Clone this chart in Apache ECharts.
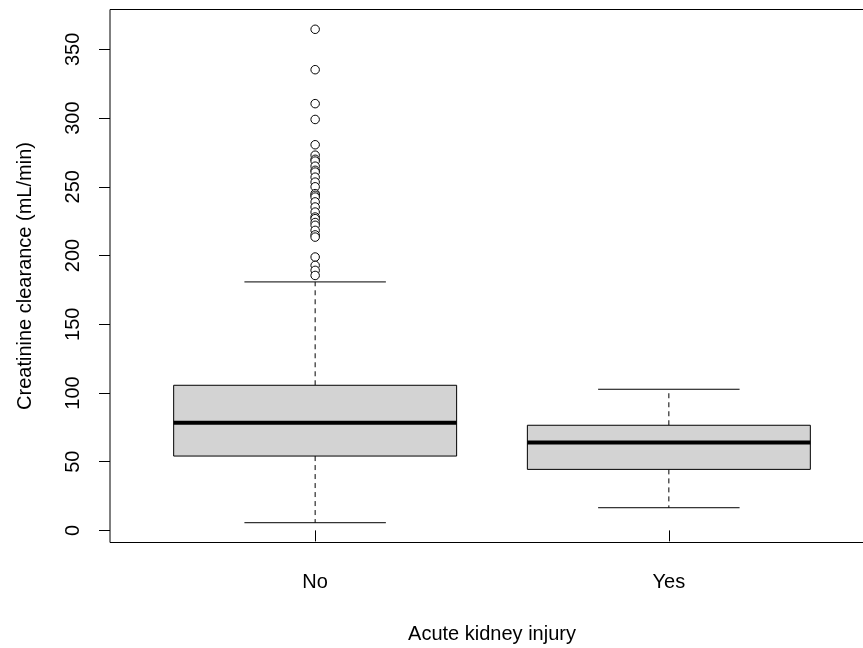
<!DOCTYPE html>
<html>
<head>
<meta charset="utf-8">
<script src="https://cdn.jsdelivr.net/npm/echarts@6/dist/echarts.min.js"></script>
<style>
  html, body { margin: 0; padding: 0; background: #fff; }
  #main { width: 863px; height: 648px; }
</style>
</head>
<body>
<div id="main"></div>
<script>
// groups on the x axis
var groups = ['No', 'Yes'];
// five-number summaries: lower whisker, Q1, median, Q3, upper whisker
var boxLow = [5.6, 16.5];
var boxQ1 = [54.1, 44.4];
var boxMedian = [78.4, 63.9];
var boxQ3 = [105.6, 76.5];
var boxHigh = [180.8, 102.7];
// outliers of the "No" group (none for "Yes")
var noOutliers = [364.6, 335.2, 310.5, 299, 280.6, 273, 270, 268.7, 265, 262,
  260.7, 257, 253.4, 250, 245, 243.8, 242.5, 239, 235.3, 231.6, 228, 226.8,
  224, 222, 218.3, 215, 213.4, 198.9, 192.8, 189.2, 185.5];
var yesOutliers = [];
// axis ticks
var yTicks = [0, 50, 100, 150, 200, 250, 300, 350];
var xTicks = [1, 2];

var myChart = echarts.init(document.getElementById('main'));

var boxData = groups.map(function (g, i) {
  return [i + 1, boxLow[i], boxQ1[i], boxMedian[i], boxQ3[i], boxHigh[i]];
});
var outlierData = noOutliers.map(function (v) { return [1, v]; })
  .concat(yesOutliers.map(function (v) { return [2, v]; }));

var font = "'Liberation Sans', Arial, sans-serif";

function renderBox(params, api) {
  var x = api.value(0);
  var lo = api.coord([x, api.value(1)]);
  var q1 = api.coord([x, api.value(2)]);
  var md = api.coord([x, api.value(3)]);
  var q3 = api.coord([x, api.value(4)]);
  var hi = api.coord([x, api.value(5)]);
  var band = api.size([1, 0])[0];
  var bw = band * 0.8;
  var cw = band * 0.4;
  var cx = md[0];
  var solid = { stroke: '#000', lineWidth: 1 };
  var dashed = { stroke: '#000', lineWidth: 1, lineDash: [5, 4] };
  return {
    type: 'group',
    children: [
      { type: 'line', shape: { x1: cx, y1: q3[1], x2: cx, y2: hi[1] }, style: dashed },
      { type: 'line', shape: { x1: cx, y1: q1[1], x2: cx, y2: lo[1] }, style: dashed },
      { type: 'line', shape: { x1: cx - cw / 2, y1: hi[1], x2: cx + cw / 2, y2: hi[1] }, style: solid },
      { type: 'line', shape: { x1: cx - cw / 2, y1: lo[1], x2: cx + cw / 2, y2: lo[1] }, style: solid },
      { type: 'rect', shape: { x: cx - bw / 2, y: q3[1], width: bw, height: q1[1] - q3[1] },
        style: { fill: '#d3d3d3', stroke: '#000', lineWidth: 1 } },
      { type: 'line', shape: { x1: cx - bw / 2, y1: md[1], x2: cx + bw / 2, y2: md[1] },
        style: { stroke: '#000', lineWidth: 4 } }
    ]
  };
}

var option = {
  animation: false,
  backgroundColor: '#fff',
  textStyle: { fontFamily: font },
  grid: {
    left: 110, top: 9.5, width: 764, bottom: 105.5,
    outerBoundsMode: 'none',
    containLabel: false,
    show: true, borderColor: '#000', borderWidth: 1, backgroundColor: 'transparent'
  },
  xAxis: {
    type: 'value',
    min: 0.42,
    max: 2.58,
    name: 'Acute kidney injury',
    nameLocation: 'middle',
    nameGap: 82,
    nameTextStyle: { color: '#000', fontSize: 20, fontFamily: font },
    axisLine: { show: false },
    splitLine: { show: false },
    axisTick: { show: true, length: 11, customValues: xTicks, lineStyle: { color: '#000' } },
    axisLabel: {
      customValues: xTicks,
      margin: 30,
      color: '#000',
      fontSize: 20,
      fontFamily: font,
      formatter: function (v) { return groups[v - 1]; }
    }
  },
  yAxis: {
    type: 'value',
    min: -8.8,
    max: 379,
    name: 'Creatinine clearance (mL/min)',
    nameLocation: 'middle',
    nameGap: 75,
    nameTextStyle: { color: '#000', fontSize: 20, fontFamily: font },
    axisLine: { show: false },
    splitLine: { show: false },
    axisTick: { show: true, length: 11, customValues: yTicks, lineStyle: { color: '#000' } },
    axisLabel: {
      customValues: yTicks,
      rotate: 90,
      margin: 27,
      color: '#000',
      fontSize: 20,
      fontFamily: font
    }
  },
  series: [
    {
      type: 'custom',
      renderItem: renderBox,
      encode: { x: 0, y: [1, 2, 3, 4, 5] },
      data: boxData,
      z: 2
    },
    {
      type: 'scatter',
      data: outlierData,
      symbol: 'circle',
      symbolSize: 8.5,
      itemStyle: { color: '#fff', borderColor: '#000', borderWidth: 1, opacity: 1 },
      z: 3
    }
  ]
};

myChart.setOption(option);
</script>
</body>
</html>
